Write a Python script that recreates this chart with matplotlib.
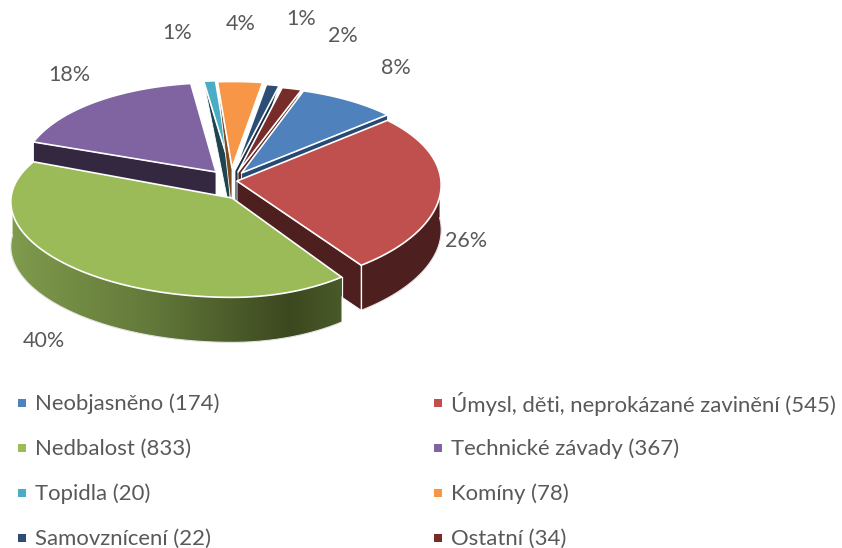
import numpy as np
import matplotlib
matplotlib.use('Agg')
import matplotlib.pyplot as plt
from matplotlib.colors import to_rgb
from matplotlib.patches import Polygon

names = ['Neobjasněno', 'Úmysl, děti, neprokázané zavinění', 'Nedbalost', 'Technické závady',
         'Topidla', 'Komíny', 'Samovznícení', 'Ostatní']
values = [174, 545, 833, 367, 20, 78, 22, 34]
top_colors = ['#4F81BD', '#C0504D', '#9BBB59', '#8064A2', '#4BACC6', '#F79646', '#2C4D75', '#772C2A']
cut_colors = ['#264A73', '#4D1F1E', '#4D1F1E', '#33283F', '#1E454F', '#7A4A20', '#1A2E46', '#5A2220']

# layout of the exploded slices, in pixels
apex_x = [241.5, 237, 232, 216, 230, 232, 235, 238]
apex_y = [173, 181, 198, 172, 167, 168, 170, 172]
rx_right = [198, 204, 180, 203, 203, 198, 203, 203]
rx_left = [203, 204, 221, 195, 203, 203, 203, 203]
ry_base = [94, 98, 92, 97, 94, 94, 94, 94]
# Excel's perspective pulls the far end of the big slice round a little
end_warp = [0, 0, 5.5, 0, 0, 0, 0, 0]
rx_persp = 0.04
ry_persp = 0.08
depth = 45
start_angle = 19

# shading of the green wall, left to right
wall_x = [11, 150, 290, 343]
wall_rgb = ['#7F9B4C', '#63793A', '#3C481F', '#4A5A29']

label_x = [396, 466, 44, 69, 177, 241, 301, 343]
label_y = [68, 241, 341, 75, 33, 24, 19, 36]

legend_x = [18, 434]
legend_y = [403, 448, 493, 538]

TEXT = '#595959'
plt.rcParams['font.family'] = ['Lato', 'DejaVu Sans']

fig = plt.figure(figsize=(8.42, 5.48), dpi=100)
ax = fig.add_axes([0, 0, 1, 1])


def rim(i, theta):
    t = np.radians(theta)
    s = np.sin(t)
    c = np.cos(t)
    rx = np.where(s >= 0, rx_right[i], rx_left[i])
    x = apex_x[i] + rx * s * (1 - rx_persp * c)
    y = apex_y[i] - ry_base[i] * c * (1 - ry_persp * c)
    return x, y


def green_wall(poly, z):
    gx = np.arange(wall_x[0], wall_x[-1] + 1)
    rgb = np.array([to_rgb(c) for c in wall_rgb])
    row = np.column_stack([np.interp(gx, wall_x, rgb[:, k]) for k in range(3)])
    im = ax.imshow(row[np.newaxis, :, :], extent=[gx[0], gx[-1], 360, 180], aspect='auto',
                   interpolation='bilinear', zorder=z)
    patch = Polygon(poly, transform=ax.transData, fc='none', ec='none')
    ax.add_patch(patch)
    im.set_clip_path(patch)


def draw_slice(i, a0, a1, z):
    a1_draw = a1 + end_warp[i]
    theta = np.linspace(a0, a1_draw, max(int(a1_draw - a0) * 2, 8))
    x, y = rim(i, theta)
    px, py = apex_x[i], apex_y[i]

    # start faces show on the left half of the circle, end faces on the right
    a_face = None
    if 180 < (a0 % 360):
        a_face = a0
    elif 0 < (a1 % 360) < 180:
        a_face = a1
    if a_face is not None:
        fx, fy = rim(i, a_face)
        c = abs(np.cos(np.radians(a_face)))
        rim_depth = 0 if c > 0.9 else depth
        face = [(px, py), (fx, fy), (fx, fy + rim_depth), (px, py + depth)]
        ax.add_patch(Polygon(face, fc=cut_colors[i], ec='white', lw=0.6, joinstyle='round', zorder=z))

    # outer wall, only the front part can be seen
    vis = (theta % 360 > 85) & (theta % 360 < 275)
    if vis.sum() > 1:
        wx, wy = x[vis], y[vis]
        poly = np.column_stack([np.r_[wx, wx[::-1]], np.r_[wy, wy[::-1] + depth]])
        if i == 2:
            green_wall(poly, z + 0.1)
        else:
            ax.add_patch(Polygon(poly, fc=cut_colors[i], ec='none', zorder=z + 0.1))
        ax.plot(wx, wy + depth, color='#E4E4E4', lw=0.8, zorder=z + 0.2)
        # the corner that faces the viewer
        k = 0 if i == 2 else -1
        ax.plot([wx[k], wx[k]], [wy[k], wy[k] + depth], color='white', lw=0.9, zorder=z + 0.2)

    # top face
    top = np.column_stack([np.r_[px, x], np.r_[py, y]])
    ax.add_patch(Polygon(top, fc=top_colors[i], ec='white', lw=1.2, joinstyle='round', zorder=z + 0.3))


total = sum(values)
angles = start_angle + np.r_[0, np.cumsum(values)] / total * 360

# back to front
for z, i in enumerate([3, 4, 5, 6, 7, 0, 1, 2]):
    draw_slice(i, angles[i], angles[i + 1], z + 1)

for i, v in enumerate(values):
    ax.text(label_x[i], label_y[i], f'{round(v / total * 100)}%', color=TEXT, fontsize=15.5,
            ha='center', va='center', zorder=20)

for i, (name, v) in enumerate(zip(names, values)):
    lx = legend_x[i % 2]
    ly = legend_y[i // 2]
    ax.scatter([lx + 4], [ly], marker='s', s=36, color=top_colors[i], linewidths=0, zorder=20)
    ax.text(lx + 17, ly + 1, f'{name} ({v})', color=TEXT, fontsize=15.9, ha='left', va='center', zorder=20)

ax.set_xlim(0, 842)
ax.set_ylim(548, 0)
ax.axis('off')

fig.savefig('out.png', dpi=100)
